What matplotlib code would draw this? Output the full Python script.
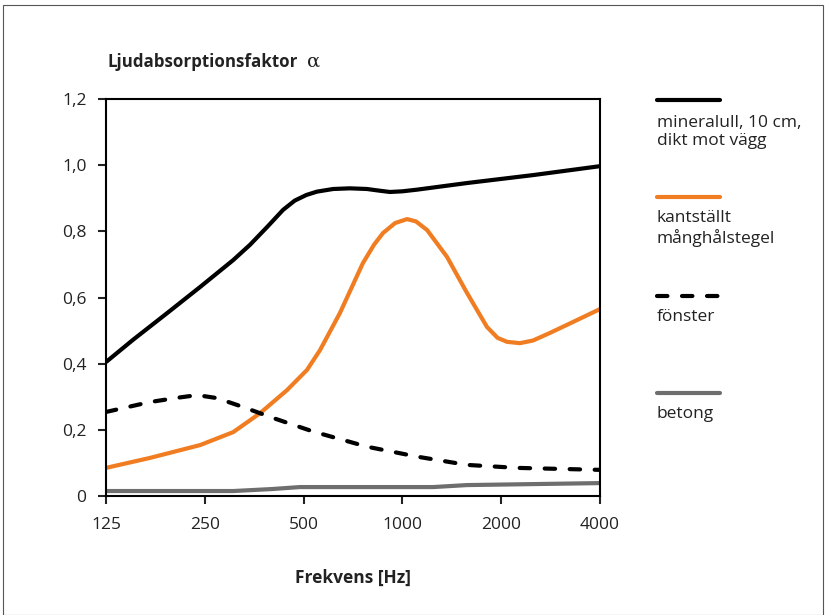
import numpy as np
import matplotlib
matplotlib.use("Agg")
import matplotlib.pyplot as plt
from matplotlib.lines import Line2D
from matplotlib.patches import Rectangle

plt.rcParams['font.family'] = ['Open Sans', 'DejaVu Sans']

# Frequencies [Hz] and absorption values
freq_mineralull = [125, 151, 192, 242, 305, 343, 387, 433, 470, 510, 549, 615, 692, 780, 850, 916, 1000, 1108, 1573, 2500, 4000]
mineralull = [0.405, 0.472, 0.553, 0.632, 0.713, 0.759, 0.813, 0.865, 0.893, 0.910, 0.920, 0.928, 0.930, 0.928, 0.923, 0.919, 0.921, 0.926, 0.946, 0.970, 0.997]

freq_tegel = [125, 170, 242, 305, 368, 445, 512, 561, 645, 758, 820, 873, 950, 1033, 1100, 1189, 1367, 1573, 1810, 1950, 2083, 2281, 2500, 2816, 3310, 4000]
tegel = [0.085, 0.115, 0.154, 0.193, 0.25, 0.32, 0.381, 0.441, 0.553, 0.704, 0.760, 0.795, 0.825, 0.837, 0.830, 0.804, 0.723, 0.614, 0.511, 0.478, 0.466, 0.462, 0.470, 0.493, 0.526, 0.565]

freq_fonster = [125, 170, 210, 237, 272, 327, 403, 534, 780, 1108, 1573, 2235, 4000]
fonster = [0.254, 0.284, 0.298, 0.305, 0.296, 0.269, 0.236, 0.195, 0.149, 0.119, 0.094, 0.085, 0.079]

freq_betong = [125, 305, 400, 487, 1240, 1573, 4000]
betong = [0.015, 0.015, 0.021, 0.027, 0.027, 0.033, 0.039]

xticks = [125, 250, 500, 1000, 2000, 4000]
yticks = [0, 0.2, 0.4, 0.6, 0.8, 1.0, 1.2]
ylabels = ['0', '0,2', '0,4', '0,6', '0,8', '1,0', '1,2']

legend_labels = ['mineralull, 10 cm,\ndikt mot vägg', 'kantställt\nmånghålstegel', 'fönster', 'betong']

black = '#000000'
orange = '#f07d22'
grey = '#6e6e6e'

fig = plt.figure(figsize=(8.27, 6.15), dpi=100)
ax = fig.add_axes([0.1282, 0.1935, 0.5973, 0.6455])

ax.plot(freq_betong, betong, color=grey, lw=3, solid_capstyle='butt', solid_joinstyle='round')
ax.plot(freq_tegel, tegel, color=orange, lw=3, solid_capstyle='butt', solid_joinstyle='round')
l, = ax.plot(freq_fonster, fonster, color=black, lw=3, dash_capstyle='round')
l.set_dashes((2.5, 3.5))
ax.plot(freq_mineralull, mineralull, color=black, lw=3, solid_capstyle='butt', solid_joinstyle='round')

ax.set_xscale('log', base=2)
ax.set_xlim(125, 4000)
ax.set_ylim(0, 1.2)
ax.set_xticks(xticks)
ax.set_xticklabels([str(x) for x in xticks])
ax.minorticks_off()
ax.set_yticks(yticks)
ax.set_yticklabels(ylabels)
for s in ax.spines.values():
    s.set_linewidth(1.5)
ax.tick_params(direction='out', length=6, width=1.5, labelsize=12.5, colors='#222222', pad=5)
ax.tick_params(axis='x', pad=9)
ax.tick_params(axis='y', pad=8)

ax.set_xlabel('Frekvens [Hz]', fontsize=12.5, fontweight='bold', labelpad=26, color='#222222')

fig.text(0.1294, 0.891, 'Ljudabsorptionsfaktor', fontsize=12.2, fontweight='bold', color='#222222', va='baseline')
fig.text(0.371, 0.891, 'α', fontsize=14, color='#222222', va='baseline', family=['DejaVu Serif'])

# legend drawn by hand in figure coordinates
leg_styles = [dict(color=black), dict(color=orange), dict(color=black, dashes=(2.5, 3.5)), dict(color=grey)]
leg_y = [100, 197, 296, 393]
text_y = [124, 219, 318, 415]
for st, ly, ty, lab in zip(leg_styles, leg_y, text_y, legend_labels):
    yy = 1 - ly / 615
    ln = Line2D([657 / 827, 720 / 827], [yy, yy], transform=fig.transFigure, lw=3,
                solid_capstyle='round', dash_capstyle='round', color=st['color'])
    if 'dashes' in st:
        ln.set_dashes(st['dashes'])
    fig.add_artist(ln)
    fig.text(657 / 827, 1 - (ty - 9) / 615, lab, fontsize=12.5, color='#222222', va='top', linespacing=1.2)

fig.add_artist(Rectangle((3 / 827, 0), 820 / 827, 1 - 5 / 615, transform=fig.transFigure,
                         fill=False, edgecolor='#555555', lw=0.8))

fig.savefig('out.png', dpi=100)
